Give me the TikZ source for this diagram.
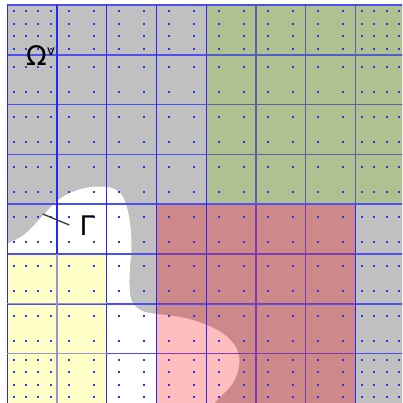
\documentclass[tikz,border=0pt]{standalone}
\usepackage{fontspec}
\setmainfont{DejaVu Sans}
\definecolor{bggray}{RGB}{192,192,192}
\definecolor{patchgreen}{RGB}{176,193,145}
\definecolor{patchred}{RGB}{205,137,137}
\definecolor{patchpink}{RGB}{255,190,190}
\definecolor{patchyellow}{RGB}{255,255,200}
\definecolor{gridblue}{RGB}{40,40,245}
\definecolor{gridblueh}{RGB}{80,80,240}
\definecolor{dotblue}{RGB}{50,50,240}
\definecolor{tintyellow}{RGB}{150,150,200}
\definecolor{tintgreen}{RGB}{85,100,165}
\definecolor{tintred}{RGB}{125,60,180}
\newcommand\wregion{(7.3,420) -- (7.3,243.5) -- plot[smooth,tension=0.55] coordinates {(7.3,243.5) (20,237.5) (30,229.5) (43,215.5) (57,201) (70,193) (85,188) (100,186.5) (112,188) (121,194) (126.5,206) (130,223) (131.5,246) (130,267) (129.5,285) (131,299) (136,307) (145,312) (157,314) (170,315.5) (187,318.5) (207,325) (223,333.5) (233.5,343.5) (238.5,353.5) (239.3,363.5) (236.7,375) (230,387) (220,397) (212,406)} -- (208,420) -- cycle}
\begin{document}
\begin{tikzpicture}[x=1pt,y=-1pt,
  gridline/.style={line width=1.3pt, draw=gridblue},
  gridlineh/.style={line width=1.6pt, draw=gridblueh},
  tintline/.style={line width=1.3pt},
  leader/.style={line width=1.4pt, draw=black!75},
  labelfont/.style={font=\fontsize{27}{27}\selectfont, inner sep=0pt, anchor=base west}]
\useasboundingbox (0,0) rectangle (402,403);
\begin{scope}
\clip (0,0) rectangle (402,403);
% background domain
\fill[bggray] (7.3,5) rectangle (420,420);
\fill[white] \wregion;
% patches
\fill[patchyellow] (7.3,254) rectangle (106.8,420);
\fill[patchgreen] (206.3,5) rectangle (420,204.2);
\fill[patchred] (156.55,204.2) rectangle (355.55,420);
\begin{scope}
  \clip \wregion;
  \fill[patchpink] (156.55,204.2) rectangle (355.55,420);
\end{scope}
% grid
\foreach \i in {0,...,8} {
  \draw[gridlineh] (7.3,{5+49.8*\i}) -- (420,{5+49.8*\i});
}
\foreach \i in {0,...,8} {
  \draw[gridline] ({7.3+49.75*\i},5) -- ({7.3+49.75*\i},420);
}
% tinted interior lines of patches
\draw[tintline, draw=tintyellow] (57.05,254) -- (57.05,420);
\foreach \y in {303.8,353.6} \draw[tintline, draw=tintyellow] (7.3,\y) -- (106.8,\y);
\foreach \x in {256.05,305.8,355.55} \draw[tintline, draw=tintgreen] (\x,5) -- (\x,204.2);
\foreach \y in {54.8,104.6,154.4} \draw[tintline, draw=tintgreen] (206.3,\y) -- (420,\y);
\foreach \x in {256.05,305.8} \draw[tintline, draw=tintred] (\x,204.2) -- (\x,420);
\foreach \y in {254,303.8,353.6} \draw[tintline, draw=tintred] (156.55,\y) -- (355.55,\y);
% dots
\foreach \i in {0,...,7} {
  \foreach \j in {0,...,7} {
    \pgfmathtruncatemacro\nx{(\i==0 || \i==7) ? 4 : 2}
    \pgfmathtruncatemacro\ny{(\j==0 || \j==7) ? 4 : 2}
    \foreach \a in {1,...,\nx} {
      \foreach \b in {1,...,\ny} {
        \fill[dotblue] ({7.3+49.75*(\i+(\a-0.5)/\nx)-1},{5+49.8*(\j+(\b-0.5)/\ny)-1}) rectangle ++(2,2);
      }
    }
  }
}
\end{scope}
% labels
\node[labelfont] (omega) at (26,65.5) {Ω\raisebox{10pt}{\fontsize{14}{14}\selectfont v}};
\node[labelfont] (gamma) at (79.5,235) {Γ};
\coordinate (lead1) at (42.7,214);
\coordinate (lead2) at (69.3,225);
\draw[leader] (lead1) -- (lead2);
\end{tikzpicture}
\end{document}
